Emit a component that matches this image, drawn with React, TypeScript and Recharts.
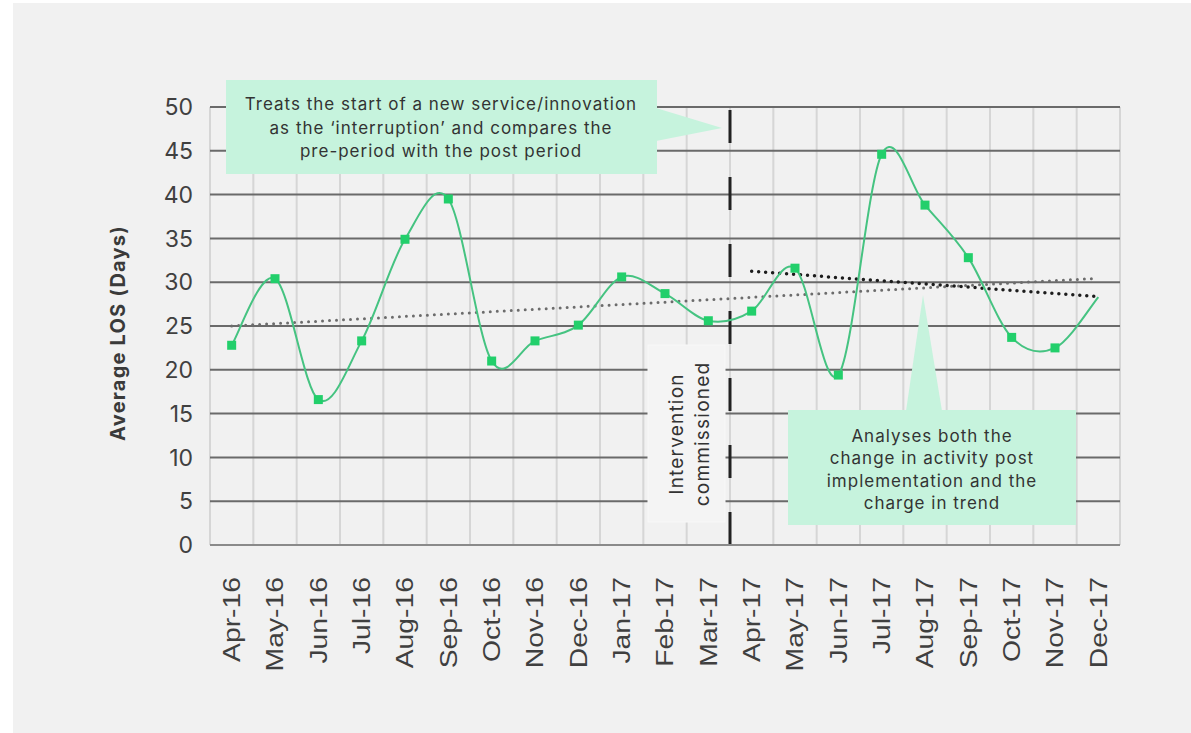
import React from "react";
import {
  CartesianGrid,
  ComposedChart,
  Line,
  ReferenceLine,
  XAxis,
  YAxis,
} from "recharts";

const months = [
  "Apr-16", "May-16", "Jun-16", "Jul-16", "Aug-16", "Sep-16", "Oct-16",
  "Nov-16", "Dec-16", "Jan-17", "Feb-17", "Mar-17", "Apr-17", "May-17",
  "Jun-17", "Jul-17", "Aug-17", "Sep-17", "Oct-17", "Nov-17", "Dec-17",
];

// average length of stay, days
const los = [
  22.8, 30.4, 16.6, 23.3, 34.9, 39.5, 21.0, 23.3, 25.1, 30.6, 28.7, 25.6,
  26.7, 31.6, 19.4, 44.6, 38.8, 32.8, 23.7, 22.5, 28.3,
];

// straight trend lines, only their end points are given
const trendAll: (number | null)[] = [
  25.0, null, null, null, null, null, null, null, null, null, null, null,
  null, null, null, null, null, null, null, null, 30.45,
];
const trendPost: (number | null)[] = [
  null, null, null, null, null, null, null, null, null, null, null, null,
  31.25, null, null, null, null, null, null, null, 28.35,
];

const yTicks = [0, 5, 10, 15, 20, 25, 30, 35, 40, 45, 50];
const monthIdx = months.map((_, i) => i);
const boundaries = [...monthIdx.map((i) => i - 0.5), months.length - 0.5];
// between Mar-17 and Apr-17
const interventionAt = 11.5;

const GRID_AXIS = 0; // month boundaries: grid and tick marks
const DATA_AXIS = 1; // month centres: labels and series

const data = months.map((m, i) => ({
  idx: i,
  month: m,
  los: los[i],
  trendAll: trendAll[i],
  trendPost: trendPost[i],
}));

// Excel-like smoothed line (Catmull-Rom through the points)
const smoothCurve = (context: any) => {
  let pts: [number, number][] = [];
  return {
    areaStart() {},
    areaEnd() {},
    lineStart() {
      pts = [];
    },
    point(x: number, y: number) {
      pts.push([+x, +y]);
    },
    lineEnd() {
      if (!pts.length) return;
      context.moveTo(pts[0][0], pts[0][1]);
      for (let i = 0; i < pts.length - 1; i++) {
        const p0 = pts[i - 1] || pts[i];
        const p1 = pts[i];
        const p2 = pts[i + 1];
        const p3 = pts[i + 2] || p2;
        context.bezierCurveTo(
          p1[0] + (p2[0] - p0[0]) / 6,
          p1[1] + (p2[1] - p0[1]) / 6,
          p2[0] - (p3[0] - p1[0]) / 6,
          p2[1] - (p3[1] - p1[1]) / 6,
          p2[0],
          p2[1]
        );
      }
    },
  };
};

const SquareDot = (props: any) => {
  const { cx, cy, index } = props;
  if (index === los.length - 1 || cx == null) return <g key={`d-${index}`} />;
  return (
    <rect
      key={`d-${index}`}
      x={cx - 4.5}
      y={cy - 4.5}
      width={9}
      height={9}
      fill="#22cf6b"
    />
  );
};

const MonthTick = (props: any) => {
  const { x, y, payload } = props;
  return (
    <text
      transform={`translate(${x},${y + 29}) rotate(-90) scale(1.18,1)`}
      textAnchor="end"
      dominantBaseline="central"
      fontFamily="'Liberation Sans', Arial, sans-serif"
      fontSize={24}
      fill="#3f3f3f"
    >
      {months[payload.value]}
    </text>
  );
};

// vertical grid at the month boundaries, placed with the axis scale
const boundaryGrid = (props: any) => {
  const { xAxis, offset } = props;
  if (xAxis && typeof xAxis.scale === "function") {
    return boundaries.map((b) => xAxis.scale(b));
  }
  const step = offset.width / months.length;
  return boundaries.map((b) => offset.left + (b + 0.5) * step);
};

const noteFont = "Inter, 'Open Sans', sans-serif";

export default function App() {
  return (
    <div
      style={{
        position: "absolute",
        left: 0,
        top: 0,
        width: 1191,
        height: 733,
        background: "#ffffff",
        overflow: "hidden",
      }}
    >
      <div
        style={{
          position: "absolute",
          left: 13,
          top: 3,
          right: 0,
          bottom: 0,
          background: "#f1f1f1",
        }}
      />
      <div style={{ position: "absolute", left: 0, top: 0 }}>
        <ComposedChart
          width={1191}
          height={733}
          data={data}
          margin={{ top: 107, right: 71, bottom: 0, left: 0 }}
        >
          <XAxis
            xAxisId={GRID_AXIS}
            type="number"
            dataKey="idx"
            domain={[-0.5, months.length - 0.5]}
            ticks={boundaries}
            interval={0}
            height={1}
            tick={false}
            tickSize={10}
            tickLine={{ stroke: "#d6d6d6", strokeWidth: 2 }}
            axisLine={{ stroke: "#8a8a8a", strokeWidth: 2 }}
          />
          <XAxis
            xAxisId={DATA_AXIS}
            type="number"
            dataKey="idx"
            domain={[-0.5, months.length - 0.5]}
            ticks={monthIdx}
            interval={0}
            height={187}
            axisLine={false}
            tickLine={false}
            tickSize={0}
            tick={<MonthTick />}
          />
          <YAxis
            type="number"
            domain={[0, 50]}
            ticks={yTicks}
            interval={0}
            width={210}
            axisLine={false}
            tickLine={false}
            tickSize={0}
            tickMargin={17}
            tick={{
              fontSize: 23,
              fill: "#404040",
              fontFamily: noteFont,
            }}
          />
          <CartesianGrid
            xAxisId={GRID_AXIS}
            horizontal={false}
            verticalCoordinatesGenerator={boundaryGrid}
            stroke="#d6d6d6"
            strokeWidth={2}
          />
          <CartesianGrid
            xAxisId={GRID_AXIS}
            vertical={false}
            syncWithTicks
            stroke="#6a6a6a"
            strokeWidth={2}
          />
          <ReferenceLine
            xAxisId={DATA_AXIS}
            x={interventionAt}
            stroke="#222222"
            strokeWidth={3}
            strokeDasharray="33 34"
          />
          <Line
            xAxisId={DATA_AXIS}
            dataKey="trendAll"
            type="linear"
            connectNulls
            stroke="#6c6c6c"
            strokeWidth={3}
            strokeDasharray="0 7"
            strokeLinecap="round"
            dot={false}
            activeDot={false}
            isAnimationActive={false}
          />
          <Line
            xAxisId={DATA_AXIS}
            dataKey="trendPost"
            type="linear"
            connectNulls
            stroke="#1c1c1c"
            strokeWidth={3.5}
            strokeDasharray="0 7"
            strokeLinecap="round"
            dot={false}
            activeDot={false}
            isAnimationActive={false}
          />
          <Line
            xAxisId={DATA_AXIS}
            dataKey="los"
            type={smoothCurve as any}
            stroke="#45c381"
            strokeWidth={2}
            dot={<SquareDot />}
            activeDot={false}
            isAnimationActive={false}
          />
        </ComposedChart>
      </div>
      <svg
        width={1191}
        height={733}
        style={{ position: "absolute", left: 0, top: 0, pointerEvents: "none" }}
      >
        <text
          transform="translate(118,333) rotate(-90)"
          textAnchor="middle"
          dominantBaseline="central"
          fontFamily={noteFont}
          fontWeight={700}
          fontSize={20}
          letterSpacing={1.2}
          fill="#3a3a3a"
        >
          Average LOS (Days)
        </text>

        <rect x={226} y={80} width={431} height={94} fill="#c6f3dd" />
        <polygon points="656,108 722,128 656,141" fill="#c6f3dd" />
        <g
          fontFamily={noteFont}
          fontSize={17}
          letterSpacing={1}
          fill="#333333"
          textAnchor="middle"
          dominantBaseline="central"
        >
          <text x={441} y={104}>
            Treats the start of a new service/innovation
          </text>
          <text x={441} y={128}>
            as the ‘interruption’ and compares the
          </text>
          <text x={441} y={151}>
            pre-period with the post period
          </text>
        </g>

        <rect
          x={648}
          y={345}
          width={77}
          height={177}
          fill="#f4f4f4"
          stroke="#f8f8f8"
          strokeWidth={1}
        />
        <g
          fontFamily={noteFont}
          fontSize={19}
          letterSpacing={1.2}
          fill="#333333"
          textAnchor="middle"
          dominantBaseline="central"
        >
          <text transform="translate(676,434) rotate(-90)">Intervention</text>
          <text transform="translate(702,434) rotate(-90)">commissioned</text>
        </g>

        <rect x={788} y={410} width={288} height={115} fill="#c6f3dd" />
        <polygon points="906,411 923,295 942,411" fill="#c6f3dd" />
        <g
          fontFamily={noteFont}
          fontSize={17}
          letterSpacing={1}
          fill="#333333"
          textAnchor="middle"
          dominantBaseline="central"
        >
          <text x={932} y={436}>
            Analyses both the
          </text>
          <text x={932} y={458}>
            change in activity post
          </text>
          <text x={932} y={481}>
            implementation and the
          </text>
          <text x={932} y={503}>
            charge in trend
          </text>
        </g>
      </svg>
    </div>
  );
}
